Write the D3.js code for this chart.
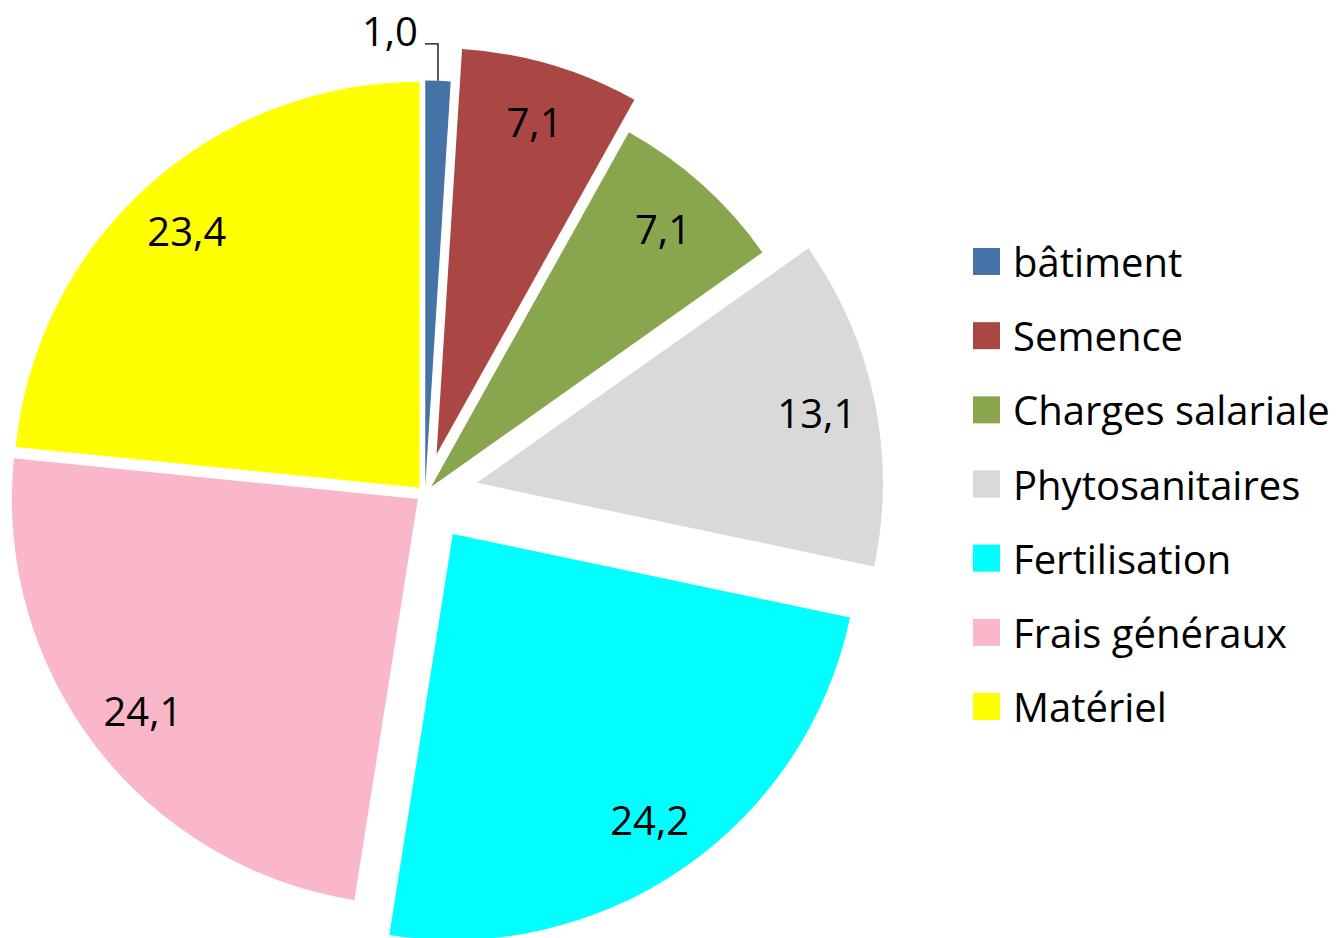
<!DOCTYPE html>
<html>
<head>
<meta charset="utf-8">
<script src="https://cdn.jsdelivr.net/npm/d3@7"></script>
<style>
  body { margin: 0; background: #fff; }
  text { font-family: "Open Sans", Lato, sans-serif; fill: #000; }
</style>
</head>
<body>
<script>
   // data
   let categories = ['bâtiment', 'Semence', 'Charges salariale', 'Phytosanitaires', 'Fertilisation', 'Frais généraux', 'Matériel'];
   let values = [1.0, 7.1, 7.1, 13.1, 24.2, 24.1, 23.4];
   let colors = ['#4572A7', '#AA4643', '#89A54E', '#D9D9D9', '#00FFFF', '#F9B7C9', '#FFFF00'];
   // how far each slice is pulled out of the pie (px)
   let explode = [7, 41, 9, 53, 49, 9, 8];

   let width = 1343;
   let height = 938;
   let cx = 425;
   let cy = 493.6;
   let radius = 406;
   let fontSize = 40;

   let svg = d3.select('body').append('svg')
      .attr('width', width)
      .attr('height', height);

   let fmt = (v) => v.toFixed(1).replace('.', ',');

   let pie = d3.pie().sort(null).value((d) => d);
   let arcs = pie(values);
   let arc = d3.arc().innerRadius(0).outerRadius(radius);
   let labelArc = d3.arc().innerRadius(radius * 0.855).outerRadius(radius * 0.855);
   let edgeArc = d3.arc().innerRadius(radius).outerRadius(radius);

   let offset = (d, i) => {
      let a = (d.startAngle + d.endAngle) / 2;
      return [Math.sin(a) * explode[i], -Math.cos(a) * explode[i]];
   };

   let slices = svg.append('g')
      .attr('transform', 'translate(' + cx + ',' + cy + ')');

   slices.selectAll('path')
      .data(arcs)
      .enter()
      .append('path')
      .attr('d', arc)
      .attr('fill', (d, i) => colors[i])
      .attr('transform', (d, i) => 'translate(' + offset(d, i) + ')');

   // value labels
   arcs.forEach((d, i) => {
      let o = offset(d, i);
      if (i === 0) {
         // small slice: label outside with a leader line
         let p = edgeArc.centroid(d);
         let x0 = p[0] + o[0], y0 = p[1] + o[1];
         let yTop = y0 - 37;
         slices.append('polyline')
            .attr('points', [[x0, y0], [x0, yTop], [x0 - 13, yTop]].map((q) => q.join(',')).join(' '))
            .attr('fill', 'none')
            .attr('stroke', '#000')
            .attr('stroke-width', 1.3);
         slices.append('text')
            .attr('x', x0 - 20)
            .attr('y', yTop - 13)
            .attr('text-anchor', 'end')
            .attr('dominant-baseline', 'central')
            .style('font-size', fontSize + 'px')
            .text(fmt(values[i]));
      } else {
         let c = labelArc.centroid(d);
         slices.append('text')
            .attr('x', c[0] + o[0])
            .attr('y', c[1] + o[1])
            .attr('text-anchor', 'middle')
            .attr('dominant-baseline', 'central')
            .style('font-size', fontSize + 'px')
            .text(fmt(values[i]));
      }
   });

   // legend
   let legendY = d3.scalePoint()
      .domain(categories)
      .range([261.5, 706.5]);

   let legend = svg.append('g');
   let items = legend.selectAll('g')
      .data(categories)
      .enter()
      .append('g')
      .attr('transform', (d) => 'translate(973,' + legendY(d) + ')');

   items.append('rect')
      .attr('x', 0)
      .attr('y', -13.5)
      .attr('width', 27)
      .attr('height', 27)
      .attr('fill', (d, i) => colors[i]);

   items.append('text')
      .attr('x', 40)
      .attr('y', 0)
      .attr('dominant-baseline', 'central')
      .style('font-size', fontSize + 'px')
      .text((d) => d);
</script>
</body>
</html>
